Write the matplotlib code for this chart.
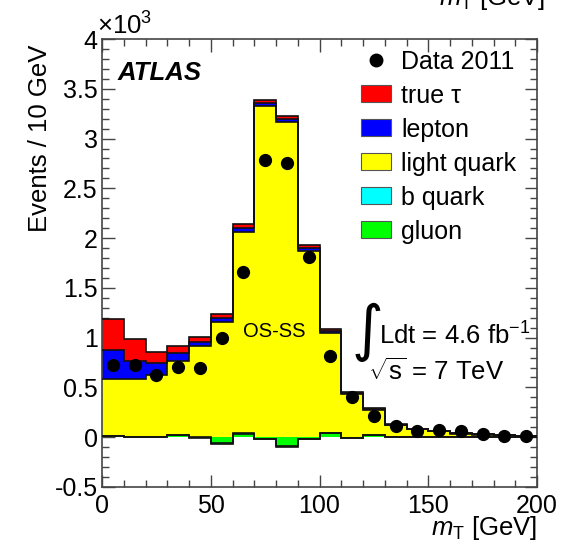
import numpy as np
import matplotlib
matplotlib.use('Agg')
import matplotlib.pyplot as plt
from matplotlib.patches import Patch
from matplotlib.lines import Line2D
from matplotlib.ticker import MultipleLocator, FuncFormatter

plt.rcParams['font.family'] = ['Liberation Sans', 'DejaVu Sans']
plt.rcParams['mathtext.fontset'] = 'custom'
plt.rcParams['mathtext.rm'] = 'Liberation Sans'
plt.rcParams['mathtext.it'] = 'Liberation Sans:italic'
plt.rcParams['mathtext.bf'] = 'Liberation Sans:bold'

# ---- data (values in units of 10^3 events) ----
bin_edges = list(range(0, 201, 10))
gluon = [0.010, 0.000, 0.000, 0.020, -0.005, -0.065, 0.035, -0.020, -0.095, -0.020,
         0.040, -0.010, 0.020, 0.005, 0.005, 0.003, 0.002, 0.000, 0.000, 0.000]
b_quark = [0.005, 0.005, 0.004, 0.004, 0.004, 0.004, 0.005, 0.005, 0.005, 0.004,
           0.003, 0.002, 0.002, 0.001, 0.001, 0.001, 0.001, 0.000, 0.000, 0.000]
light_quark = [0.565, 0.575, 0.616, 0.746, 0.921, 1.221, 2.020, 3.345, 3.260, 1.886,
               1.007, 0.438, 0.253, 0.114, 0.074, 0.054, 0.034, 0.027, 0.018, 0.011]
lepton = [0.300, 0.190, 0.130, 0.080, 0.040, 0.040, 0.040, 0.030, 0.030, 0.030,
          0.020, 0.010, 0.005, 0.005, 0.005, 0.002, 0.002, 0.002, 0.001, 0.001]
true_tau = [0.310, 0.220, 0.110, 0.070, 0.050, 0.035, 0.040, 0.030, 0.030, 0.030,
            0.020, 0.010, 0.010, 0.005, 0.002, 0.003, 0.001, 0.001, 0.001, 0.001]
data_2011 = [0.73, 0.73, 0.62, 0.71, 0.70, 1.00, 1.66, 2.78, 2.75, 1.81,
             0.82, 0.40, 0.21, 0.11, 0.065, 0.073, 0.063, 0.03, 0.013, 0.01]

labels = ['gluon', 'b quark', 'light quark', 'lepton', 'true \u03c4']
colors = ['#00ff00', '#00ffff', '#ffff00', '#0000ff', '#ff0000']

edges = np.array(bin_edges, dtype=float)
centers = 0.5 * (edges[:-1] + edges[1:])
stack = np.cumsum(np.vstack([gluon, b_quark, light_quark, lepton, true_tau]), axis=0)

W, H = 567, 544
fig = plt.figure(figsize=(W / 100, H / 100), dpi=100)
ax = fig.add_axes([102 / W, 57 / H, 435 / W, 448 / H])

# ROOT-like stack drawing: each cumulative histogram filled from zero, top-most first
for i in reversed(range(5)):
    ax.stairs(stack[i], edges, baseline=0, fill=True, facecolor=colors[i],
              edgecolor='none', lw=0, zorder=2)
    ax.stairs(stack[i], edges, baseline=None, fill=False, color='#111111',
              lw=1.2, zorder=3)

ax.plot(centers, data_2011, 'o', color='black', ms=8.5, zorder=5)

ax.set_xlim(0, 200)
ax.set_ylim(-0.5, 4.0)
ax.xaxis.set_major_locator(MultipleLocator(50))
ax.xaxis.set_minor_locator(MultipleLocator(10))
ax.yaxis.set_major_locator(MultipleLocator(0.5))
ax.yaxis.set_minor_locator(MultipleLocator(0.1))
ax.yaxis.set_major_formatter(FuncFormatter(lambda v, p: '%g' % round(v, 2)))
ax.tick_params(which='both', direction='in', top=True, right=True,
               color='#444444', width=1.0)
ax.tick_params(which='major', length=9, labelsize=18)
ax.tick_params(which='minor', length=5)
ax.tick_params(axis='x', which='major', pad=5)
ax.tick_params(axis='y', which='major', pad=3)
for s in ax.spines.values():
    s.set_color('#444444')
    s.set_linewidth(1.2)

# legend
handles = [Line2D([], [], marker='o', ls='none', color='black', ms=9)]
for i in reversed(range(5)):
    handles.append(Patch(facecolor=colors[i], edgecolor='#555555', lw=0.8))
leg_labels = ['Data 2011'] + labels[::-1]
leg = ax.legend(handles, leg_labels, loc='upper left',
                bbox_to_anchor=((361 - 102) / 435, (437 - 39 + 49.7 - 11) / 447.4),
                frameon=False, fontsize=18, handlelength=1.2, handleheight=0.67,
                handletextpad=0.4, labelspacing=0.40, borderpad=0, borderaxespad=0)

# texts
ax.text(0.035, 0.925, 'ATLAS', transform=ax.transAxes, fontsize=18.5,
        fontweight='bold', fontstyle='italic', ha='left', va='center')
ax.text(79.3, 1.06, 'OS-SS', fontsize=14.5, ha='center', va='center', zorder=6)
fig.text(367 / W, 1 - 332 / H, '\u222b', fontsize=44, family='DejaVu Sans',
         ha='center', va='center')
fig.text(379 / W, 1 - 345 / H, r'Ldt = 4.6 fb$^{\mathregular{-1}}$', fontsize=18.5,
         ha='left', va='baseline')
fig.text(368 / W, 1 - 380 / H, r'$\sqrt{\mathregular{s}}$ = 7 TeV', fontsize=18.5,
         ha='left', va='baseline')

fig.text(40 / W, 1 - 45 / H, 'Events / 10 GeV', rotation=90, fontsize=18.5,
         ha='center', va='top')
fig.text(537 / W, 1 - 535 / H, r'$m_{\mathregular{T}}$ [GeV]', fontsize=18.5,
         ha='right', va='baseline')
fig.text(97 / W, 1 - 35 / H, r'$\times$10$^{\mathregular{3}}$', fontsize=18.5,
         ha='left', va='baseline')
fig.text(545 / W, 1 - 5 / H, r'$m_{\mathregular{T}}$ [GeV]', fontsize=18.5,
         ha='right', va='baseline')

fig.savefig('out.png', dpi=100)
